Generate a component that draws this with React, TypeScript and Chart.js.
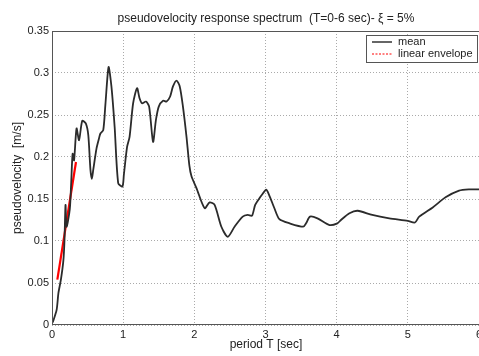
import React, { useEffect, useRef } from "react";
import { Chart, registerables } from "chart.js";

Chart.register(...registerables);

const meanT = [0.01, 0.065, 0.09, 0.125, 0.16, 0.175, 0.19, 0.205, 0.25, 0.27, 0.29, 0.31, 0.345, 0.38, 0.425, 0.475, 0.51, 0.54, 0.56, 0.58, 0.625, 0.66, 0.68, 0.72, 0.75, 0.795, 0.835, 0.88, 0.93, 0.99, 1.01, 1.055, 1.09, 1.14, 1.195, 1.23, 1.265, 1.32, 1.365, 1.42, 1.46, 1.5, 1.56, 1.61, 1.66, 1.7, 1.75, 1.795, 1.84, 1.89, 1.93, 1.96, 2.03, 2.145, 2.215, 2.285, 2.38, 2.47, 2.565, 2.68, 2.75, 2.81, 2.855, 2.915, 2.95, 3.01, 3.05, 3.125, 3.195, 3.34, 3.53, 3.57, 3.625, 3.73, 3.9, 4.01, 4.06, 4.18, 4.295, 4.5, 4.74, 5.0, 5.1, 5.16, 5.35, 5.53, 5.72, 5.86, 6.0];
const meanV = [0.003, 0.018, 0.038, 0.054, 0.077, 0.1, 0.143, 0.117, 0.138, 0.17, 0.204, 0.196, 0.234, 0.22, 0.243, 0.24, 0.226, 0.185, 0.174, 0.185, 0.21, 0.222, 0.228, 0.232, 0.262, 0.307, 0.284, 0.236, 0.169, 0.165, 0.179, 0.212, 0.224, 0.264, 0.282, 0.27, 0.264, 0.266, 0.26, 0.218, 0.244, 0.26, 0.267, 0.266, 0.272, 0.284, 0.291, 0.284, 0.26, 0.224, 0.19, 0.177, 0.163, 0.139, 0.146, 0.143, 0.117, 0.105, 0.117, 0.129, 0.131, 0.13, 0.143, 0.151, 0.155, 0.161, 0.155, 0.139, 0.126, 0.121, 0.117, 0.121, 0.129, 0.127, 0.119, 0.121, 0.125, 0.133, 0.136, 0.131, 0.127, 0.124, 0.122, 0.129, 0.14, 0.152, 0.16, 0.1615, 0.1615];
const envelopeT = [0.075, 0.337];
const envelopeV = [0.054, 0.194];

const xTicks = [0, 1, 2, 3, 4, 5, 6];
const yTicks = [0, 0.05, 0.1, 0.15, 0.2, 0.25, 0.3, 0.35];

const titleText = "pseudovelocity response spectrum  (T=0-6 sec)- \u03BE = 5%";
const xTitle = "period T [sec]";
const yTitle = "pseudovelocity  [m/s]";
const legendLabels = ["mean", "linear envelope"];

const FONT = "'Liberation Sans', Arial, sans-serif";

const decorPlugin = {
  id: "decor",
  afterDraw(chart: any) {
    const { ctx, chartArea } = chart;
    const { left, right, top, bottom } = chartArea;
    ctx.save();
    // frame
    ctx.strokeStyle = "#555";
    ctx.lineWidth = 1;
    ctx.strokeRect(left + 0.5, top + 0.5, right - left, bottom - top - 1);
    // title
    ctx.fillStyle = "#222";
    ctx.font = `12px ${FONT}`;
    ctx.textAlign = "center";
    ctx.textBaseline = "middle";
    const cx = 266;
    ctx.fillText(titleText, cx, 19);
    ctx.fillText(xTitle, cx, 345);
    ctx.save();
    ctx.translate(18, (top + bottom) / 2);
    ctx.rotate(-Math.PI / 2);
    ctx.fillText(yTitle, 0, 0);
    ctx.restore();
    // legend
    const bx = 366, by = 35, bw = 111, bh = 27;
    ctx.fillStyle = "#fff";
    ctx.fillRect(bx, by, bw, bh);
    ctx.lineWidth = 1;
    ctx.strokeStyle = "#555";
    ctx.strokeRect(bx + 0.5, by + 0.5, bw, bh);
    ctx.lineWidth = 1.5;
    ctx.strokeStyle = "#333";
    ctx.beginPath();
    ctx.moveTo(372, 42);
    ctx.lineTo(392, 42);
    ctx.stroke();
    ctx.strokeStyle = "#f00";
    ctx.setLineDash([2, 1.5]);
    ctx.lineWidth = 1;
    ctx.beginPath();
    ctx.moveTo(372, 54);
    ctx.lineTo(392, 54);
    ctx.stroke();
    ctx.setLineDash([]);
    ctx.fillStyle = "#222";
    ctx.textAlign = "left";
    ctx.font = `11px ${FONT}`;
    ctx.fillText(legendLabels[0], 398, 42);
    ctx.fillText(legendLabels[1], 398, 54);
    ctx.restore();
  },
};

export default function App() {
  const ref = useRef<HTMLCanvasElement>(null);
  useEffect(() => {
    if (!ref.current) return;
    const chart = new Chart(ref.current, {
      type: "line",
      data: {
        datasets: [
          {
            label: legendLabels[0],
            data: meanT.map((t, i) => ({ x: t, y: meanV[i] })),
            borderColor: "#2b2b2b",
            borderWidth: 1.8,
            pointRadius: 0,
            tension: 0.25,
            fill: false,
          },
          {
            label: legendLabels[1],
            data: envelopeT.map((t, i) => ({ x: t, y: envelopeV[i] })),
            borderColor: "#ff0000",
            borderWidth: 2.2,
            pointRadius: 0,
            fill: false,
          },
        ],
      },
      options: {
        animation: false,
        responsive: false,
        devicePixelRatio: 1,
        layout: { padding: { top: 31, right: 0, left: 0, bottom: 0 } },
        plugins: { legend: { display: false }, title: { display: false }, tooltip: { enabled: false } },
        scales: {
          x: {
            type: "linear",
            min: 0,
            max: 6,
            afterBuildTicks: (s: any) => { s.ticks = xTicks.map((v) => ({ value: v })); },
            afterFit: (s: any) => { s.height = 31; s.paddingLeft = 0; s.paddingRight = 0; },
            ticks: { color: "#222", font: { size: 11, family: FONT }, padding: 3, maxRotation: 0, autoSkip: false, callback: (v: any) => String(v) },
            grid: { color: "#aaa", drawTicks: false, lineWidth: 1 },
            border: { display: false, dash: [1, 2] },
          },
          y: {
            type: "linear",
            min: 0,
            max: 0.35,
            afterBuildTicks: (s: any) => { s.ticks = yTicks.map((v) => ({ value: v })); },
            afterFit: (s: any) => { s.width = 52; s.paddingTop = 0; s.paddingBottom = 0; },
            ticks: { color: "#222", font: { size: 11, family: FONT }, padding: 3, autoSkip: false, callback: (v: any) => String(+Number(v).toFixed(2)) },
            grid: { color: "#aaa", drawTicks: false, lineWidth: 1 },
            border: { display: false, dash: [1, 2] },
          },
        },
      },
      plugins: [decorPlugin],
    } as any);
    return () => chart.destroy();
  }, []);
  return (
    <div style={{ position: "fixed", left: 0, top: 0, width: 479, height: 356, background: "#fff" }}>
      <canvas ref={ref} width={479} height={356} style={{ display: "block" }} />
    </div>
  );
}
